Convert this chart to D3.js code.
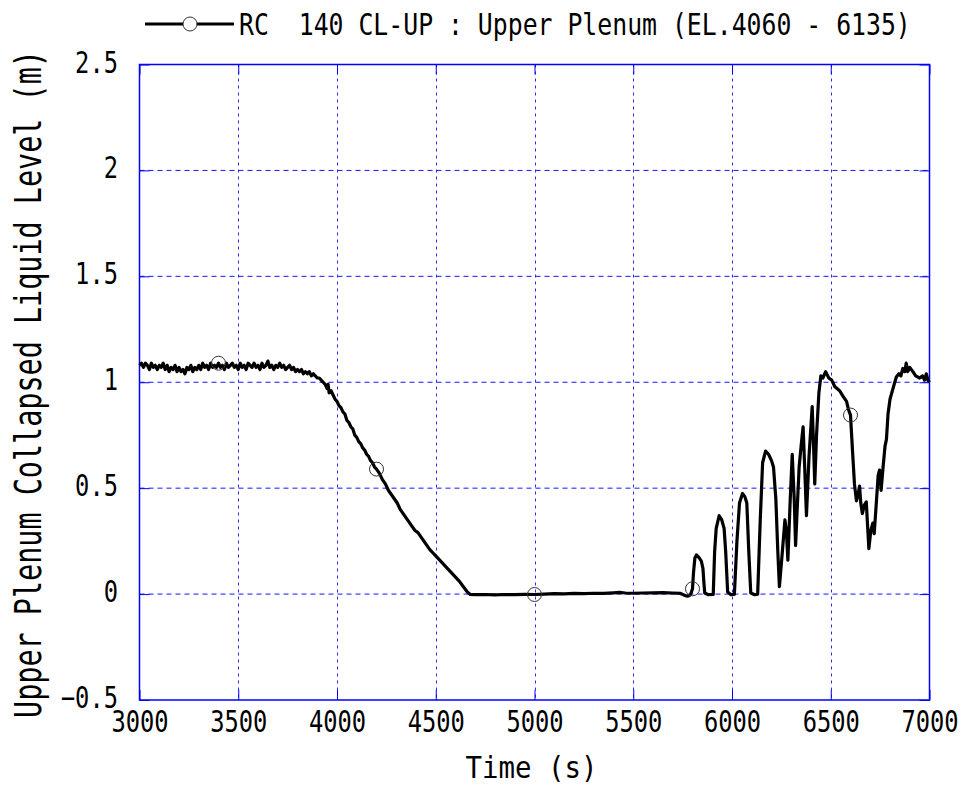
<!DOCTYPE html>
<html>
<head>
<meta charset="utf-8">
<script src="https://cdn.jsdelivr.net/npm/d3@7"></script>
<style>
  html, body { margin: 0; padding: 0; background: #fff; }
  svg text { font-family: "DejaVu Sans Mono", monospace; fill: #000; white-space: pre; }
</style>
</head>
<body>
<svg id="chart" width="964" height="789"></svg>
<script>
// ---------------- data ----------------
const seriesName = "RC  140 CL-UP : Upper Plenum (EL.4060 - 6135)";
const xTitle = "Time (s)";
const yTitle = "Upper Plenum Collapsed Liquid Level (m)";
const xTicks = [3000, 3500, 4000, 4500, 5000, 5500, 6000, 6500, 7000];
const xTickLabels = ["3000", "3500", "4000", "4500", "5000", "5500", "6000", "6500", "7000"];
const yTicks = [-0.5, 0, 0.5, 1, 1.5, 2, 2.5];
const yTickLabels = ["\u22120.5", "0", "0.5", "1", "1.5", "2", "2.5"];
const markerTimes = [3400, 4200, 5000, 5800, 6600];

const time = [
  3000,3010,3020,3030,3040,3050,3060,3070,3080,3090,
  3100,3110,3120,3130,3140,3150,3160,3170,3180,3190,
  3200,3210,3220,3230,3240,3250,3260,3270,3280,3290,
  3300,3310,3320,3330,3340,3350,3360,3370,3380,3390,
  3400,3410,3420,3430,3440,3450,3460,3470,3480,3490,
  3500,3510,3520,3530,3540,3550,3560,3570,3580,3590,
  3600,3610,3620,3630,3640,3650,3660,3670,3680,3690,
  3700,3710,3720,3730,3740,3750,3760,3770,3780,3790,
  3800,3810,3820,3830,3840,3850,3860,3870,3880,3890,
  3900,3910,3920,3930,3940,3950,3955,3960,3970,3980,3990,
  4000,4010,4020,4030,4040,4050,4060,4070,4080,4090,
  4100,4110,4120,4130,4140,4150,4160,4170,4180,4190,
  4200,4215,4230,4245,4260,4275,4290,4305,4320,4335,
  4350,4365,4380,4395,4410,4425,4440,4455,4470,4485,
  4500,4520,4540,4560,4580,4600,4620,4640,4660,4675,
  4700,4750,4800,4850,4900,4950,5000,5050,5100,5150,
  5200,5250,5300,5350,5400,5430,5460,5500,5550,5600,
  5650,5700,5740,5760,5775,5790,5800,
  5805,5812,5820,5835,5845,5853,5858,5862,5880,5905,
  5912,5920,5935,5948,5960,5968,5978,5995,6012,
  6025,6038,6053,6065,6075,6085,6095,6115,6130,
  6143,6155,6170,6185,6200,6210,6222,6232,6240,
  6255,6268,6275,6283,6295,6305,6315,6322,6330,6340,
  6350,6360,6368,6377,6390,6406,6413,6419,6428,6440,
  6450,6460,6474,6490,6505,6520,6545,6565,6580,6590,
  6600,6610,6620,6630,6638,6646,6652,6660,6670,6680,
  6686,6693,6703,6713,6720,6730,6740,6747,6755,6765,
  6775,6782,6790,6800,6815,6832,6845,6855,6865,6875,
  6882,6890,6900,6916,6930,6950,6965,6975,6984,6992,7000
];
const level = [
  1.08,1.09,1.07,1.09,1.08,1.06,1.09,1.07,1.08,1.06,
  1.08,1.07,1.09,1.06,1.08,1.05,1.07,1.06,1.08,1.05,
  1.07,1.05,1.06,1.04,1.07,1.06,1.08,1.05,1.07,1.06,
  1.08,1.06,1.09,1.07,1.08,1.06,1.09,1.07,1.08,1.07,
  1.09,1.07,1.08,1.06,1.09,1.07,1.08,1.09,1.07,1.08,
  1.06,1.09,1.07,1.08,1.06,1.09,1.08,1.07,1.09,1.07,
  1.08,1.06,1.09,1.07,1.08,1.10,1.07,1.08,1.06,1.08,
  1.07,1.09,1.07,1.08,1.06,1.07,1.08,1.06,1.07,1.05,
  1.06,1.05,1.06,1.04,1.05,1.04,1.05,1.03,1.04,1.03,
  1.02,1.02,1.01,1.00,0.99,0.97,0.99,0.95,0.96,0.94,0.92,
  0.91,0.89,0.88,0.86,0.85,0.82,0.81,0.79,0.78,0.75,
  0.74,0.72,0.71,0.69,0.68,0.66,0.65,0.63,0.62,0.60,
  0.59,0.57,0.54,0.52,0.49,0.47,0.45,0.43,0.40,0.38,
  0.36,0.34,0.32,0.30,0.29,0.27,0.25,0.23,0.21,0.195,
  0.18,0.16,0.14,0.12,0.10,0.08,0.06,0.035,0.01,-0.002,
  -0.003,-0.002,-0.004,-0.002,-0.003,-0.001,-0.002,0.0,0.002,0.001,
  0.003,0.002,0.004,0.003,0.006,0.008,0.005,0.004,0.005,0.006,
  0.007,0.005,0.003,-0.006,-0.01,-0.003,0.025,
  0.10,0.17,0.185,0.17,0.155,0.12,0.05,0.005,-0.003,-0.002,
  0.20,0.31,0.37,0.35,0.31,0.20,0.01,-0.003,-0.002,
  0.25,0.43,0.475,0.46,0.43,0.20,0.005,-0.003,0.0,
  0.35,0.62,0.675,0.66,0.63,0.60,0.45,0.20,0.035,
  0.20,0.35,0.30,0.16,0.45,0.66,0.45,0.23,0.40,0.60,
  0.70,0.79,0.60,0.37,0.65,0.885,0.70,0.52,0.75,0.95,
  1.03,1.02,1.05,1.02,1.01,0.98,0.96,0.93,0.91,0.87,
  0.845,0.68,0.52,0.44,0.47,0.51,0.43,0.38,0.42,0.435,
  0.33,0.215,0.30,0.335,0.285,0.42,0.56,0.585,0.49,0.60,
  0.70,0.73,0.85,0.92,0.97,1.025,1.04,1.03,1.065,1.05,
  1.09,1.05,1.07,1.05,1.03,1.02,1.03,1.01,1.04,1.01,1.00
];

// ---------------- layout ----------------
const svg = d3.select("#chart");
const L = 139.5, R = 929.5, T = 64.5, B = 700;
const x = d3.scaleLinear().domain([3000, 7000]).range([L, R]);
const y = d3.scaleLinear().domain([-0.5, 2.5]).range([B, T]);
const blue = "#0000ff";
const charW = 14.3;

// squeeze text horizontally (narrow monospace look) via transform
function squeeze(sel, widthFn) {
  sel.each(function (d) {
    const el = d3.select(this);
    const tx = +el.attr("x") || 0, ty = +el.attr("y") || 0;
    const w = this.getComputedTextLength();
    const s = w > 0 ? widthFn(d) / w : 1;
    el.attr("x", 0).attr("y", 0).attr("transform", `translate(${tx},${ty}) scale(${s},1)`);
  });
}

// grid
svg.append("g").selectAll("line").data(yTicks.slice(1, -1)).join("line")
  .attr("x1", L).attr("x2", R).attr("y1", d => y(d)).attr("y2", d => y(d))
  .attr("stroke", "#1515ff").attr("stroke-width", 1).attr("stroke-dasharray", "5,4");
svg.append("g").selectAll("line").data(xTicks.slice(1, -1)).join("line")
  .attr("x1", d => Math.round(x(d)) + 0.5).attr("x2", d => Math.round(x(d)) + 0.5)
  .attr("y1", T).attr("y2", B)
  .attr("stroke", "#2a2aff").attr("stroke-width", 1).attr("stroke-dasharray", "3,4");

// axes
function styleAxis(g) {
  g.select(".domain").remove();
  g.selectAll(".tick line").attr("stroke", blue).attr("stroke-width", 1);
  g.selectAll(".tick text").attr("fill", "#000").style("font-size", "30px")
    .attr("font-family", "DejaVu Sans Mono, monospace");
}
const fmtX = d => xTickLabels[xTicks.indexOf(d)];
const fmtY = d => yTickLabels[yTicks.indexOf(d)];

const gx = svg.append("g").attr("transform", `translate(0,${B})`)
  .call(d3.axisBottom(x).tickValues(xTicks).tickFormat(fmtX).tickSize(-10).tickPadding(11));
styleAxis(gx);
squeeze(gx.selectAll(".tick text"), d => fmtX(d).length * charW);

const gy = svg.append("g").attr("transform", `translate(${L},0)`)
  .call(d3.axisLeft(y).tickValues(yTicks).tickFormat(fmtY).tickSize(-10).tickPadding(21.5));
styleAxis(gy);
gy.selectAll(".tick text").attr("dy", "0.25em");
squeeze(gy.selectAll(".tick text"), d => fmtY(d).length * charW);

const gt = svg.append("g").attr("transform", `translate(0,${T})`)
  .call(d3.axisTop(x).tickValues(xTicks).tickFormat("").tickSize(-10));
styleAxis(gt);
const gr = svg.append("g").attr("transform", `translate(${R},0)`)
  .call(d3.axisRight(y).tickValues(yTicks).tickFormat("").tickSize(-10));
styleAxis(gr);

// frame
svg.append("rect").attr("x", L).attr("y", T).attr("width", R - L).attr("height", B - T)
  .attr("fill", "none").attr("stroke", blue).attr("stroke-width", 1.5);

// series
const pts = time.map((t, i) => [t, level[i]]);
svg.append("path").datum(pts)
  .attr("fill", "none").attr("stroke", "#000").attr("stroke-width", 3.2)
  .attr("stroke-linejoin", "round")
  .attr("d", d3.line().x(d => x(d[0])).y(d => y(d[1])));

const markers = markerTimes.map(t => pts[d3.bisectLeft(time, t)]);
svg.append("g").selectAll("circle").data(markers).join("circle")
  .attr("cx", d => x(d[0])).attr("cy", d => y(d[1])).attr("r", 7)
  .attr("fill", "none").attr("stroke", "#333").attr("stroke-width", 1);

// legend
const lg = svg.append("g");
lg.append("line").attr("x1", 145).attr("x2", 234).attr("y1", 24).attr("y2", 24)
  .attr("stroke", "#000").attr("stroke-width", 3);
lg.append("circle").attr("cx", 190).attr("cy", 24).attr("r", 7)
  .attr("fill", "#fff").attr("stroke", "#333").attr("stroke-width", 1);
const lt = lg.append("text").attr("x", 239).attr("y", 35).style("font-size", "30px").text(seriesName);
squeeze(lt, () => 672);

// axis titles
const xt = svg.append("text").attr("x", (L + R) / 2 - 3).attr("y", 778).attr("text-anchor", "middle")
  .style("font-size", "30px").text(xTitle);
squeeze(xt, () => 132);
const yg = svg.append("g").attr("transform", "translate(41,384) rotate(-90)");
const yt = yg.append("text").attr("text-anchor", "middle").style("font-size", "37px").text(yTitle);
squeeze(yt, () => 668);
</script>
</body>
</html>
